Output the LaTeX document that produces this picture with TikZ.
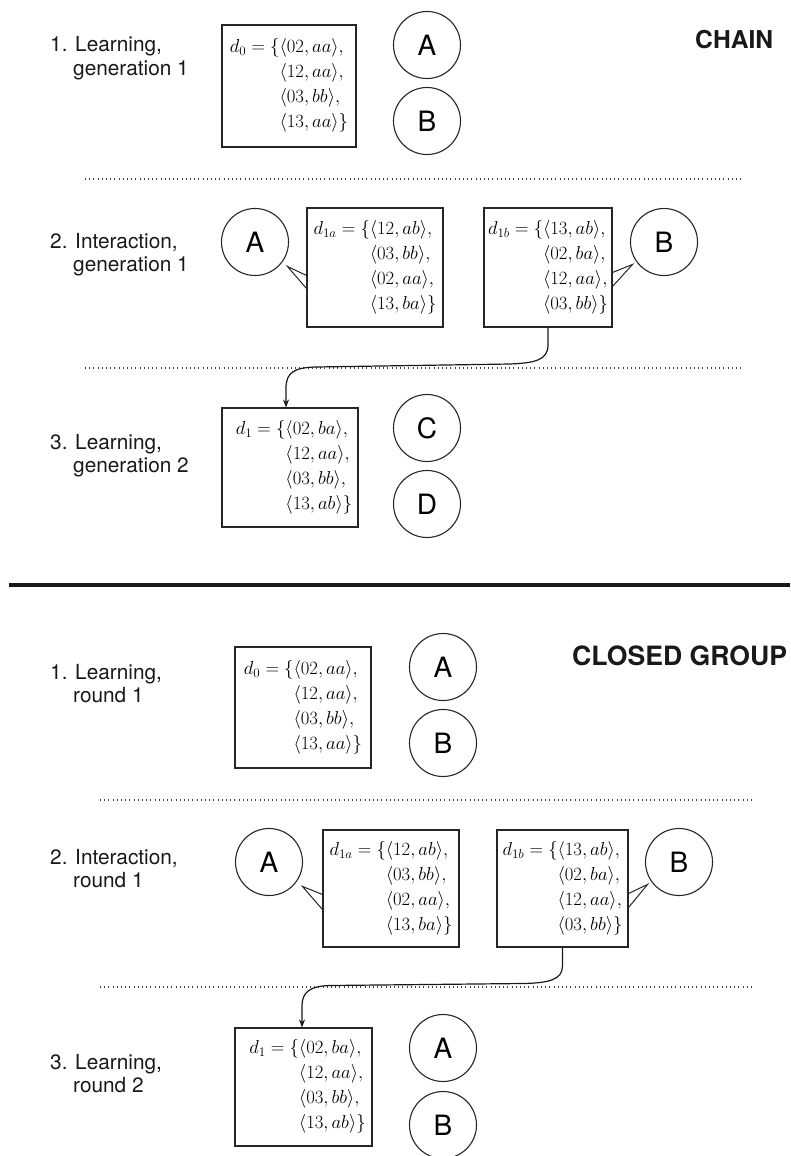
\RequirePackage{fix-cm}
\documentclass[tikz,border=0pt]{standalone}
\usepackage{amsmath}
\usepackage{fontspec}
\newfontfamily\helv{TeX Gyre Heros}
\usetikzlibrary{arrows.meta}
\setlength{\jot}{3.5pt}
\newcommand{\dset}[5]{$\begin{aligned}#1=\{&\langle #2\rangle,\\&\langle #3\rangle,\\&\langle #4\rangle,\\&\langle #5\rangle\}\end{aligned}$}
\tikzset{
  dbox/.style={draw=black!85, line width=1.1pt, inner sep=0pt, font=\fontsize{18.7}{21.5}\selectfont},
  agent/.style={circle, draw=black!85, line width=1.1pt, inner sep=0pt, minimum size=67pt, font=\helv\fontsize{28}{30}\selectfont},
  lab/.style={anchor=base west, inner sep=0pt, font=\helv\fontsize{20.8}{23}\selectfont, text=black!90},
  ttl/.style={anchor=base west, inner sep=0pt, text=black!90},
  sep/.style={dash pattern=on 1pt off 3.2pt, line width=1.1pt, draw=black!75},
  tail/.style={line width=1pt, draw=black!85, line join=miter},
  arr/.style={line width=1.2pt, draw=black!90, -{Stealth[length=8pt,width=6pt]}},
  thick sep/.style={line width=4pt, draw=black!90}
}
\begin{document}
\begin{tikzpicture}[x=1pt,y=-1pt]
\useasboundingbox (0,0) rectangle (790,1156);
% ---------------- CHAIN ----------------
\node[lab] (l1a) at (50,52) {1. Learning,};
\node[lab] (l1b) at (73,75) {generation 1};
\node[dbox, minimum width=134pt, minimum height=122pt] (t0) at (289,86) {\dset{d_0}{02,aa}{12,aa}{03,bb}{13,aa}};
\node[agent] (tA) at (427,45) {A};
\node[agent] (tB) at (427,121) {B};
\node[ttl, font=\helv\bfseries\fontsize{24.6}{28}\selectfont] (chain) at (695,48.5) {CHAIN};
\draw[sep] (85,179) -- (742,179);

\node[lab] (l2a) at (50,248) {2. Interaction,};
\node[lab] (l2b) at (73,271) {generation 1};
\node[dbox, minimum width=136pt, minimum height=119pt] (t1a) at (375,267.5) {\dset{d_{1a}}{12,ab}{03,bb}{02,aa}{13,ba}};
\node[dbox, minimum width=128pt, minimum height=119pt] (t1b) at (548,267.5) {\dset{d_{1b}}{13,ab}{02,ba}{12,aa}{03,bb}};
\node[agent] (tA2) at (255,242) {A};
\node[agent] (tB2) at (664,242) {B};
\draw[tail] ([yshift=-68pt]t1a.north west) -- ([shift={(-19pt,-59pt)}]t1a.north west) -- ([yshift=-81pt]t1a.north west);
\draw[tail] ([yshift=-65pt]t1b.north east) -- ([shift={(20pt,-57pt)}]t1b.north east) -- ([yshift=-79pt]t1b.north east);
\draw[sep] (85,368) -- (742,368);

\node[lab] (l3a) at (50,449) {3. Learning,};
\node[lab] (l3b) at (73,472) {generation 2};
\node[dbox, minimum width=136pt, minimum height=119pt] (t1) at (290,467.5) {\hspace*{8pt}\dset{d_1}{02,ba}{12,aa}{03,bb}{13,ab}};
\node[agent] (tC) at (427,428) {C};
\node[agent] (tD) at (427,504) {D};
\draw[arr] (t1b.south) -- (548,345) .. controls (548,360) and (535,363) .. (510,364) -- (316,367) .. controls (295,367.5) and (286,372) .. (286,388) -- ([xshift=-4pt]t1.north);

% ---------------- separator ----------------
\draw[thick sep] (9,584.5) -- (790,584.5);

% ---------------- CLOSED GROUP ----------------
\node[lab] (b1a) at (50,679) {1. Learning,};
\node[lab] (b1b) at (73,702) {round 1};
\node[dbox, minimum width=136pt, minimum height=121pt] (b0) at (303,707.5) {\dset{d_0}{02,aa}{12,aa}{03,bb}{13,aa}};
\node[agent] (bA) at (443,667) {A};
\node[agent] (bB) at (443,743) {B};
\node[ttl, font=\helv\bfseries\fontsize{26.6}{30}\selectfont] (closed) at (572,665) {CLOSED GROUP};
\draw[sep] (100,800) -- (752,800);

\node[lab] (b2a) at (50,864) {2. Interaction,};
\node[lab] (b2b) at (73,887) {round 1};
\node[dbox, minimum width=136pt, minimum height=117pt] (b1a) at (391,888.5) {\dset{d_{1a}}{12,ab}{03,bb}{02,aa}{13,ba}};
\node[dbox, minimum width=131pt, minimum height=117pt] (b1b) at (562.5,888.5) {\dset{d_{1b}}{13,ab}{02,ba}{12,aa}{03,bb}};
\node[agent] (bA2) at (269,862) {A};
\node[agent] (bB2) at (679,862) {B};
\draw[tail] ([yshift=-65pt]b1a.north west) -- ([shift={(-20pt,-57pt)}]b1a.north west) -- ([yshift=-80pt]b1a.north west);
\draw[tail] ([yshift=-64pt]b1b.north east) -- ([shift={(19pt,-55pt)}]b1b.north east) -- ([yshift=-78pt]b1b.north east);
\draw[sep] (100,987) -- (752,987);

\node[lab] (b3a) at (50,1069) {3. Learning,};
\node[lab] (b3b) at (73,1092) {round 2};
\node[dbox, minimum width=137pt, minimum height=118pt] (b1) at (303.5,1087) {\hspace*{8pt}\dset{d_1}{02,ba}{12,aa}{03,bb}{13,ab}};
\node[agent] (bA3) at (443,1048) {A};
\node[agent] (bB3) at (443,1125) {B};
\draw[arr] (b1b.south) -- (562.5,966) .. controls (562.5,980) and (548,983) .. (523,983.5) -- (330,985.5) .. controls (310,986) and (302,992) .. (302,1006) -- ([xshift=-1.5pt]b1.north);
\end{tikzpicture}
\end{document}
